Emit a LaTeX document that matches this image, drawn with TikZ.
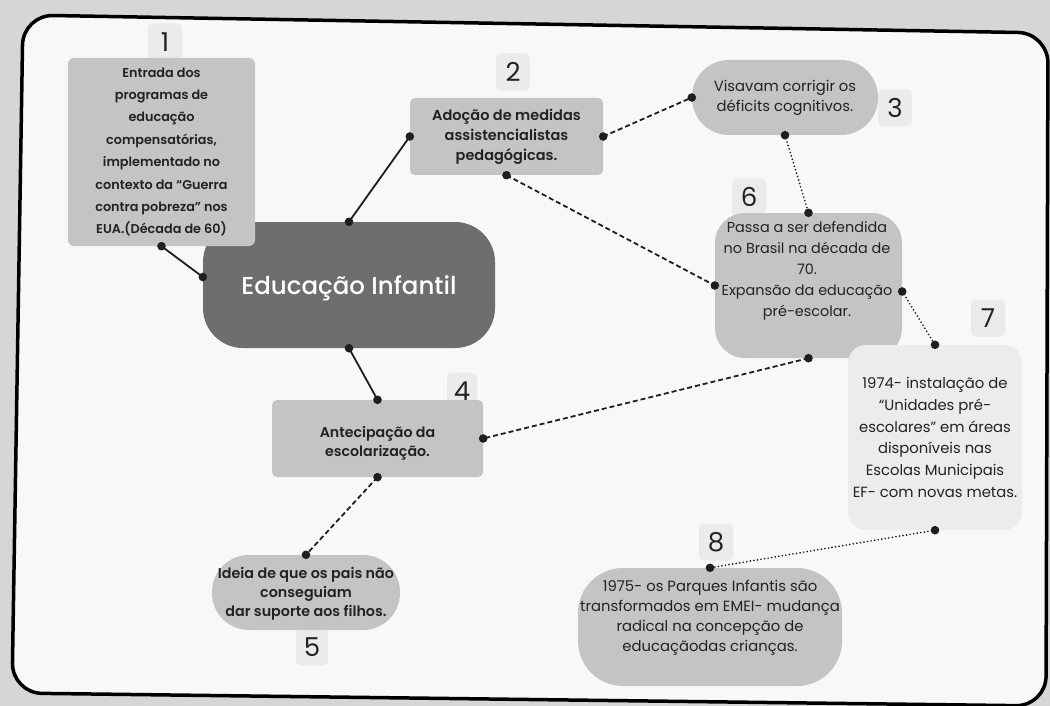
\documentclass[tikz,border=0pt]{standalone}
\usepackage{fontspec}
\setmainfont{Poppins}
\newfontfamily\medfont{Poppins Medium}
\newfontfamily\semifont{Poppins SemiBold}
\definecolor{bg}{HTML}{D6D6D6}
\definecolor{paper}{HTML}{F8F8F8}
\definecolor{boxgray}{HTML}{C4C4C4}
\definecolor{lightbox}{HTML}{ECECEC}
\definecolor{taggray}{HTML}{EBEBEB}
\definecolor{central}{HTML}{6E6E6E}
\definecolor{ink}{HTML}{1E1E1E}
\definecolor{txt}{HTML}{222222}
\tikzset{
  box/.style={fill=boxgray, align=center, inner sep=0pt, text=txt},
  regtxt/.style={align=center, inner sep=0pt, text=txt, font=\fontsize{14.8}{20}\selectfont},
  medtxt/.style={align=center, inner sep=0pt, text=txt, font=\semifont\fontsize{14.5}{20}\selectfont},
  tag/.style={fill=taggray, rounded corners=5, minimum width=34, minimum height=37, inner sep=0pt, font=\fontsize{26}{26}\selectfont, text=txt},
  solidln/.style={line width=1.8, draw=ink},
  dashln/.style={line width=1.8, dash pattern=on 5pt off 3pt, draw=ink},
  dotln/.style={line width=1.9, dash pattern=on 0pt off 3.6pt, line cap=round, draw=ink},
}
\newcommand\conn[3]{\draw[#1] #2 -- #3; \fill[ink] #2 circle (4.3); \fill[ink] #3 circle (4.3);}
\begin{document}
\begin{tikzpicture}[x=1pt,y=-1pt]
\useasboundingbox (0,0) rectangle (1050,706);
\fill[bg] (0,0) rectangle (1050,706);
\draw[line width=3.5, fill=paper, rounded corners=30] (23,15) -- (1048,33) -- (1046,706) -- (12,693) -- cycle;

% tags
\node[tag] (n1) at (165,42) {1};
\node[tag] (n2) at (513,72) {2};
\node[tag] (n3) at (895,108) {3};
\node[tag] (n6) at (749,197) {6};
\node[tag] (n7) at (988,318) {7};
\node[tag, minimum width=30] (n4) at (462,391) {4};
\node[tag, minimum width=32] (n5) at (312,647) {5};
\node[tag] (n8) at (716,542) {8};

% boxes
\node[box, fill=central, rounded corners=40, minimum width=292, minimum height=126] (c) at (349,285) {};
\node[align=center, inner sep=0pt, text=white, font=\medfont\fontsize{24.5}{28}\selectfont] (tc) at (349,288) {Educação Infantil};

\node[box, rounded corners=6, minimum width=187, minimum height=188] (b1) at (161.5,152) {};
\node[medtxt, font=\semifont\fontsize{12.8}{22.4}\selectfont] (t1) at (161.5,152) {Entrada dos\\programas de\\educação\\compensatórias,\\implementado no\\contexto da “Guerra\\contra pobreza” nos\\EUA.(Década de 60)};

\node[box, rounded corners=5, minimum width=193, minimum height=77] (b2) at (506.5,136.5) {};
\node[medtxt] (t2) at (506.5,137) {Adoção de medidas\\assistencialistas\\pedagógicas.};

\node[box, rounded corners=37, minimum width=186, minimum height=75] (b3) at (785,97.5) {};
\node[regtxt] (t3) at (785,98) {Visavam corrigir os\\déficits cognitivos.};

\node[box, rounded corners=30, minimum width=187, minimum height=145] (b6) at (808.5,285.5) {};
\node[regtxt, font=\fontsize{14.4}{21}\selectfont] (t6) at (807,271) {Passa a ser defendida\\no Brasil na década de\\70.\\Expansão da educação\\pré-escolar.};

\node[box, fill=lightbox, rounded corners=18, minimum width=174, minimum height=185] (b7) at (935,437.5) {};
\node[regtxt, font=\fontsize{14.8}{21.8}\selectfont] (t7) at (935,437.5) {1974- instalação de\\“Unidades pré-\\escolares” em áreas\\disponíveis nas\\Escolas Municipais\\EF- com novas metas.};

\node[box, rounded corners=5, minimum width=211, minimum height=77] (b4) at (377.5,438.5) {};
\node[medtxt, font=\semifont\fontsize{14.2}{19}\selectfont] (t4) at (377.5,443) {Antecipação da\\escolarização.};

\node[box, rounded corners=37, minimum width=188, minimum height=75] (b5) at (306,592.5) {};
\node[medtxt, font=\semifont\fontsize{14.3}{19}\selectfont] (t5) at (306,594) {Ideia de que os pais não\\conseguiam\\dar suporte aos filhos.};

\node[box, rounded corners=45, minimum width=264, minimum height=118] (b8) at (710,627) {};
\node[regtxt] (t8) at (710,618) {1975- os Parques Infantis são\\transformados em EMEI- mudança\\radical na concepção de\\educaçãodas crianças.};

% connectors
\conn{solidln}{(b1.south)}{([yshift=8pt]c.west)}
\conn{solidln}{(c.north)}{(b2.west)}
\conn{solidln}{(c.south)}{(b4.north)}
\conn{dashln}{(b2.east)}{(b3.west)}
\conn{dashln}{(b2.south)}{(b6.west)}
\conn{dashln}{(b6.south)}{(b4.east)}
\conn{dashln}{(b4.south)}{(b5.north)}
\conn{dotln}{(b3.south)}{(b6.north)}
\conn{dotln}{([yshift=-6pt]b6.east)}{(b7.north)}
\conn{dotln}{(b7.south)}{(b8.north)}
\end{tikzpicture}
\end{document}
